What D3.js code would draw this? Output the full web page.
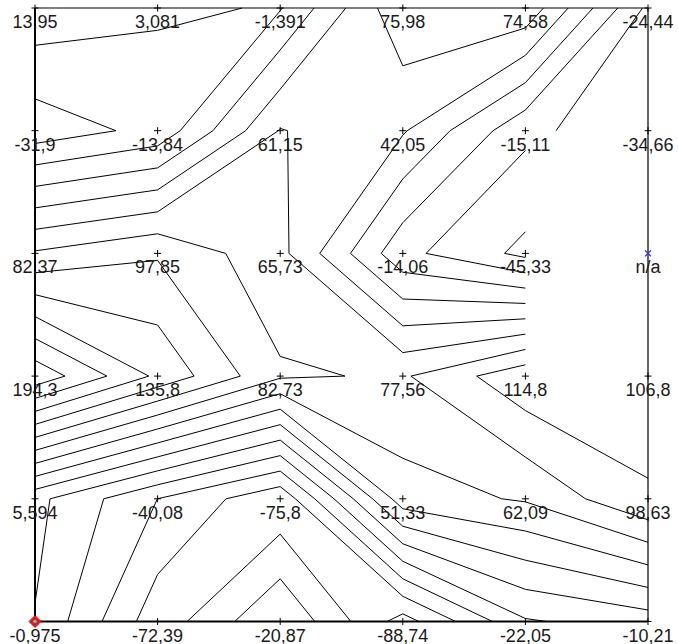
<!DOCTYPE html>
<html>
<head>
<meta charset="utf-8">
<script src="https://cdn.jsdelivr.net/npm/d3@7"></script>
<style>
  body { margin: 0; background: #fff; }
  svg { display: block; }
  .lbl { font-family: "Liberation Sans", Arial, sans-serif; font-size: 18px; fill: #1a1a1a; }
</style>
</head>
<body>
<div id="chart"></div>
<script>
// grid values, top row first (null = missing)
const row0 = [13.95, 3.081, -1.391, 75.98, 74.58, -24.44];
const row1 = [-31.9, -13.84, 61.15, 42.05, -15.11, -34.66];
const row2 = [82.37, 97.85, 65.73, -14.06, -45.33, null];
const row3 = [194.3, 135.8, 82.73, 77.56, 114.8, 106.8];
const row4 = [5.594, -40.08, -75.8, 51.33, 62.09, 98.63];
const row5 = [-0.975, -72.39, -20.87, -88.74, -22.05, -10.21];
const levels = [-80, -60, -40, -20, 0, 20, 40, 60, 80, 100, 120, 140, 160, 180];

const grid = [row0, row1, row2, row3, row4, row5];
const nCols = row0.length, nRows = grid.length;

const width = 678, height = 644;
const x = d3.scaleLinear().domain([0, nCols - 1]).range([35, 648]);
const y = d3.scaleLinear().domain([0, nRows - 1]).range([8, 621.5]);

const svg = d3.select('#chart').append('svg')
    .attr('width', width)
    .attr('height', height);

// marching squares, one cell at a time, straight segments between edge crossings
function cellSegments(i, j, L) {
    const tl = grid[j][i], tr = grid[j][i + 1], bl = grid[j + 1][i], br = grid[j + 1][i + 1];
    if (tl === null || tr === null || bl === null || br === null) return [];
    const cross = (a, b) => (L - a) / (b - a);
    const up = v => v >= L;
    const e = {};
    if (up(tl) !== up(tr)) e.top = [i + cross(tl, tr), j];
    if (up(tr) !== up(br)) e.right = [i + 1, j + cross(tr, br)];
    if (up(bl) !== up(br)) e.bottom = [i + cross(bl, br), j + 1];
    if (up(tl) !== up(bl)) e.left = [i, j + cross(tl, bl)];
    const keys = Object.keys(e);
    if (keys.length === 2) return [[e[keys[0]], e[keys[1]]]];
    if (keys.length === 4) {
        // saddle: the high corners get cut off on their own
        const segs = [];
        if (up(tl)) segs.push([e.top, e.left]);
        if (up(tr)) segs.push([e.top, e.right]);
        if (up(br)) segs.push([e.right, e.bottom]);
        if (up(bl)) segs.push([e.bottom, e.left]);
        return segs;
    }
    return [];
}

const segments = [];
levels.forEach(L => {
    for (let j = 0; j < nRows - 1; j++) {
        for (let i = 0; i < nCols - 1; i++) {
            cellSegments(i, j, L).forEach(s => segments.push(s));
        }
    }
});

svg.append('g')
    .selectAll('line')
    .data(segments)
    .join('line')
    .attr('x1', d => x(d[0][0]))
    .attr('y1', d => y(d[0][1]))
    .attr('x2', d => x(d[1][0]))
    .attr('y2', d => y(d[1][1]))
    .attr('stroke', '#000')
    .attr('stroke-width', 1);

// frame
const frame = svg.append('g').attr('stroke', '#000').attr('fill', 'none');
frame.append('line').attr('x1', x(0)).attr('x2', x(nCols - 1)).attr('y1', y(0)).attr('y2', y(0)).attr('stroke-width', 1.2);
frame.append('line').attr('x1', x(nCols - 1)).attr('x2', x(nCols - 1)).attr('y1', y(0)).attr('y2', y(nRows - 1)).attr('stroke-width', 1.2);
frame.append('line').attr('x1', x(0)).attr('x2', x(0)).attr('y1', y(0)).attr('y2', y(nRows - 1)).attr('stroke-width', 2);
frame.append('line').attr('x1', x(0)).attr('x2', x(nCols - 1)).attr('y1', y(nRows - 1)).attr('y2', y(nRows - 1)).attr('stroke-width', 2);

// points and labels
const points = [];
grid.forEach((row, j) => row.forEach((v, i) => points.push({i, j, v})));

const fmt = v => v === null ? 'n/a' : String(v).replace('.', ',');

svg.append('g')
    .selectAll('path')
    .data(points.filter(p => p.v !== null && !(p.i === 0 && p.j === nRows - 1)))
    .join('path')
    .attr('d', p => `M${x(p.i) - 3.5},${y(p.j)}h7M${x(p.i)},${y(p.j) - 3.5}v7`)
    .attr('stroke', '#000')
    .attr('stroke-width', 1);

// missing value marker
points.filter(p => p.v === null).forEach(p => {
    svg.append('path')
        .attr('d', `M${x(p.i) - 3},${y(p.j) - 3}l6,6M${x(p.i) + 3},${y(p.j) - 3}l-6,6`)
        .attr('stroke', '#2233ee')
        .attr('stroke-width', 1.3);
});

// origin marker
svg.append('path')
    .attr('d', `M${x(0)},${y(nRows - 1) - 6}l6,6l-6,6l-6,-6z`)
    .attr('fill', '#ee1111')
    .attr('stroke', '#ee1111');
svg.append('circle')
    .attr('cx', x(0)).attr('cy', y(nRows - 1)).attr('r', 1.8)
    .attr('fill', '#22dddd');

svg.append('g')
    .selectAll('text')
    .data(points)
    .join('text')
    .attr('class', 'lbl')
    .attr('x', p => x(p.i))
    .attr('y', p => y(p.j) + 20)
    .attr('text-anchor', 'middle')
    .text(p => fmt(p.v));
</script>
</body>
</html>
